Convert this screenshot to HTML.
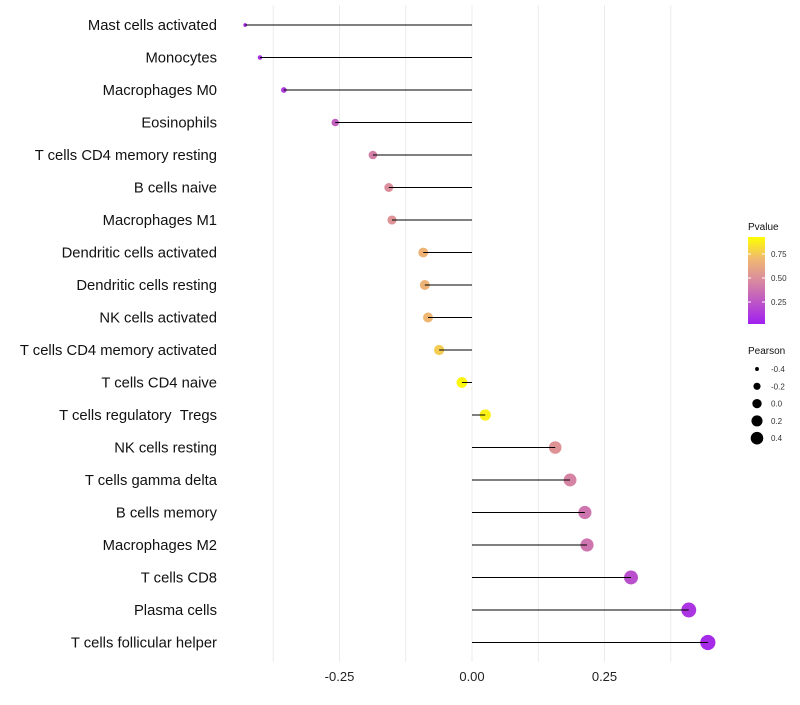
<!DOCTYPE html>
<html><head><meta charset="utf-8"><style>
body{margin:0;background:#fff;font-family:"Liberation Sans",sans-serif}
</style></head><body>
<svg id="c" width="800" height="700" xmlns="http://www.w3.org/2000/svg">
<defs><linearGradient id="g" x1="0" y1="1" x2="0" y2="0">
<stop offset="0" stop-color="#A020F0"/><stop offset="0.5" stop-color="#D98A9F"/><stop offset="0.75" stop-color="#F0B870"/><stop offset="1" stop-color="#FFFF00"/></linearGradient></defs>
</svg>
<script>
const cells=["Mast cells activated","Monocytes","Macrophages M0","Eosinophils","T cells CD4 memory resting","B cells naive","Macrophages M1","Dendritic cells activated","Dendritic cells resting","NK cells activated","T cells CD4 memory activated","T cells CD4 naive","T cells regulatory\u00a0\u00a0Tregs","NK cells resting","T cells gamma delta","B cells memory","Macrophages M2","T cells CD8","Plasma cells","T cells follicular helper"];
const pearson=[-0.428,-0.40,-0.355,-0.258,-0.187,-0.157,-0.151,-0.092,-0.089,-0.083,-0.062,-0.019,0.025,0.157,0.185,0.213,0.217,0.30,0.409,0.445];
const pvalue=[0.05,0.08,0.12,0.3,0.45,0.52,0.55,0.72,0.72,0.74,0.82,0.97,0.95,0.55,0.47,0.4,0.4,0.22,0.1,0.05];
const xTicks=[-0.25,0,0.25];
const xTickLabels=["-0.25","0.00","0.25"];
const sizeBreaks=[-0.4,-0.2,0.0,0.2,0.4];
const sizeLabels=["-0.4","-0.2","0.0","0.2","0.4"];
const colorBreaks=[0.25,0.5,0.75];
const colorLabels=["0.25","0.50","0.75"];
const svg=document.getElementById('c');const NS="http://www.w3.org/2000/svg";
const X=v=>472+v*530;
const Y=i=>25+i*32.5;
const R=v=>Math.sqrt(Math.max(1,30+62*v));
function col(p){const st=[[0,[160,32,240]],[0.5,[217,138,159]],[0.75,[240,184,112]],[1,[255,255,0]]];
for(let k=1;k<st.length;k++){if(p<=st[k][0]){const a=st[k-1],b=st[k],t=(p-a[0])/(b[0]-a[0]);return 'rgb('+a[1].map((c,j)=>Math.round(c+(b[1][j]-c)*t)).join(',')+')';}}return 'rgb(255,255,0)';}
function el(t,a,txt){const e=document.createElementNS(NS,t);for(const k in a)e.setAttribute(k,a[k]);if(txt!==undefined)e.textContent=txt;svg.appendChild(e);return e;}
for(let v=-0.375;v<=0.4;v+=0.125){const g=el('line',{x1:X(v),x2:X(v),y1:5,y2:662,stroke:'#ebebeb','stroke-width':1});

}
xTicks.forEach((v,i)=>{const t=el('text',{x:X(v),y:681,'font-size':13,'text-anchor':'middle',fill:'#222'},xTickLabels[i]);

});
cells.forEach((c,i)=>{const y=Y(i);
const l=el('text',{x:217,y:y+5,'font-size':14.8,'text-anchor':'end',fill:'#111'},c);


const p=el('circle',{cx:X(pearson[i]),cy:y,r:R(pearson[i]),fill:col(pvalue[i])});


const s=el('line',{x1:X(0),x2:X(pearson[i]),y1:y,y2:y,stroke:'#000','stroke-width':1});

});
let t=el('text',{x:748,y:230,'font-size':10,fill:'#111'},'Pvalue');

const cb=el('rect',{x:748,y:237,width:17,height:87,fill:'url(#g)'});

colorBreaks.forEach((b,i)=>{const y=326-b*96;el('line',{x1:748,x2:751,y1:y,y2:y,stroke:'#fff'});el('line',{x1:762,x2:765,y1:y,y2:y,stroke:'#fff'});
const lt=el('text',{x:771,y:y+3,'font-size':8,fill:'#333'},colorLabels[i]);
});
t=el('text',{x:748,y:354,'font-size':10,fill:'#111'},'Pearson');

sizeBreaks.forEach((b,i)=>{const y=369+i*17.3;
const d=el('circle',{cx:757,cy:y,r:R(b)*0.85,fill:'#000'});

const lt=el('text',{x:771,y:y+3,'font-size':8,fill:'#333'},sizeLabels[i]);
});
</script>
</body></html>
